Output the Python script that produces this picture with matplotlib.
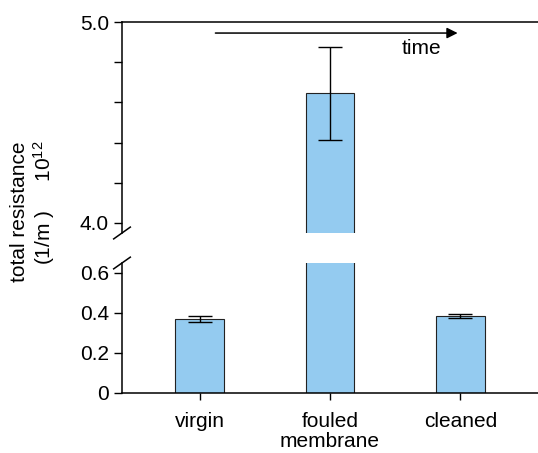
import numpy as np
import matplotlib.pyplot as plt

categories = ['virgin', 'fouled\nmembrane', 'cleaned']
resistance = [0.37, 4.645, 0.385]
errors = [0.015, 0.23, 0.012]

plt.rcParams['font.family'] = ['Liberation Sans', 'DejaVu Sans']
plt.rcParams['font.size'] = 15
plt.rcParams['mathtext.fontset'] = 'custom'
plt.rcParams['mathtext.rm'] = 'Liberation Sans'
plt.rcParams['mathtext.it'] = 'Liberation Sans'

bar_color = '#94CBF0'


def main():
    fig = plt.figure(figsize=(5.38, 4.53), dpi=100)
    left = 122 / 538
    width = 1 - left
    ax_top = fig.add_axes([left, 1 - 233 / 453, width, (233 - 22) / 453])
    ax_bot = fig.add_axes([left, 1 - 393 / 453, width, (393 - 263) / 453])

    x = np.arange(len(categories))
    for ax in (ax_top, ax_bot):
        ax.bar(x, resistance, width=0.37, color=bar_color,
               edgecolor='#222222', linewidth=0.8, zorder=2)
        ax.errorbar(x, resistance, yerr=errors, fmt='none', ecolor='black',
                    elinewidth=1, capsize=8.5, capthick=1, zorder=3)
        ax.set_xlim(-0.595, 2.595)
        for s in ax.spines.values():
            s.set_linewidth(1.1)

    # upper part
    ax_top.set_ylim(3.95, 5.0)
    ax_top.set_yticks([4.0, 5.0])
    ax_top.set_yticklabels(['4.0', '5.0'])
    ax_top.set_yticks([4.2, 4.4, 4.6, 4.8], minor=True)
    ax_top.spines['right'].set_visible(False)
    ax_top.spines['bottom'].set_visible(False)
    ax_top.tick_params(axis='y', which='both', direction='out', length=6, width=1)
    ax_top.set_xticks([])
    ax_top.annotate('', xy=(2.0, 4.945), xytext=(0.1, 4.945),
                    arrowprops=dict(arrowstyle='-|>', color='black', lw=1.1,
                                    mutation_scale=16))
    ax_top.text(1.7, 4.867, 'time', ha='center', va='center')

    # lower part
    ax_bot.set_ylim(0, 0.65)
    ax_bot.set_yticks([0, 0.2, 0.4, 0.6])
    ax_bot.set_yticklabels(['0', '0.2', '0.4', '0.6'])
    ax_bot.spines['right'].set_visible(False)
    ax_bot.spines['top'].set_visible(False)
    ax_bot.tick_params(axis='both', direction='out', length=6, width=1)
    ax_bot.tick_params(axis='x', length=5, pad=9)
    ax_bot.set_xticks(x)
    ax_bot.set_xticklabels(categories, linespacing=1.05)

    # break marks
    d = 0.02
    ax_top.plot([-d, d], [-0.028, 0.028], transform=ax_top.transAxes,
                color='black', lw=1.1, clip_on=False)
    ax_bot.plot([-d, d], [0.955, 1.045], transform=ax_bot.transAxes,
                color='black', lw=1.1, clip_on=False)

    # y label
    fig.text(20 / 538, 1 - 212 / 453, 'total resistance', rotation=90,
             ha='center', va='center')
    fig.text(44 / 538, 1 - 203 / 453, r'(1/m )     10$^{12}$', rotation=90,
             ha='center', va='center')

    fig.savefig('out.png', dpi=100)


if __name__ == '__main__':
    main()
